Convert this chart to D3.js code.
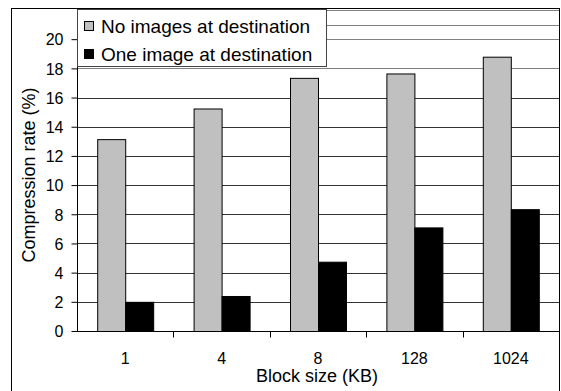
<!DOCTYPE html>
<html>
<head>
<meta charset="utf-8">
<script src="https://cdn.jsdelivr.net/npm/d3@7"></script>
<style>
  html, body { margin: 0; padding: 0; background: #fff; }
  svg { display: block; }
</style>
</head>
<body>
<svg id="chart" width="561" height="391" font-family="Liberation Sans, Arial, sans-serif"></svg>
<script>
// Block sizes and compression rates for the two destination scenarios
const categories = ["1", "4", "8", "128", "1024"];
const noImages = [13.15, 15.25, 17.35, 17.65, 18.8];
const oneImage = [2.0, 2.4, 4.75, 7.1, 8.35];
const yTicks = [0, 2, 4, 6, 8, 10, 12, 14, 16, 18, 20];
const gridValues = [2, 4, 6, 8, 10, 12, 14, 16, 18, 20, 21, 22];
const seriesNames = ["No images at destination", "One image at destination"];
const seriesColors = ["#c0c0c0", "#000000"];

const FONT = "Liberation Sans, Arial, sans-serif";
const svg = d3.select("#chart");
const W = 561, H = 391;
const plotL = 77, plotR = 559;
const plotT = 10, plotB = 331;

// outer frame
svg.append("rect")
  .attr("x", 11.5).attr("y", 8.5)
  .attr("width", 548).attr("height", 400)
  .attr("fill", "#fff").attr("stroke", "#000").attr("stroke-width", 1);

const x = d3.scaleBand().domain(categories).range([plotL, plotR]);
const y = d3.scaleLinear().domain([0, 22]).range([plotB, plotT]);

// gridlines
svg.append("g")
  .selectAll("line")
  .data(gridValues)
  .join("line")
  .attr("x1", plotL).attr("x2", plotR)
  .attr("y1", d => Math.round(y(d)) + 0.5)
  .attr("y2", d => Math.round(y(d)) + 0.5)
  .attr("stroke", d => d >= 18 ? "#808080" : "#333")
  .attr("stroke-width", 1);

// bars
const groupW = 56;
const inner = d3.scaleBand().domain([0, 1]).range([0, groupW]);
const barOffset = (x.bandwidth() - groupW) / 2;
[noImages, oneImage].forEach((vals, si) => {
  svg.append("g")
    .selectAll("rect")
    .data(vals)
    .join("rect")
    .attr("x", (d, i) => x(categories[i]) + barOffset + inner(si) + 0.5)
    .attr("y", d => y(d) + 0.5)
    .attr("width", inner.bandwidth())
    .attr("height", d => y(0) - y(d))
    .attr("fill", seriesColors[si])
    .attr("stroke", "#000")
    .attr("stroke-width", 1);
});

// y axis
const yAxis = svg.append("g")
  .attr("transform", `translate(${plotL + 0.5},0)`)
  .call(d3.axisLeft(y).tickValues(yTicks).tickSize(6).tickPadding(8).tickSizeOuter(0));
yAxis.select(".domain").attr("d", `M0,${plotT}V${plotB}`).attr("stroke", "#000");
yAxis.selectAll(".tick line").attr("stroke", "#000");
yAxis.attr("font-family", FONT).attr("font-size", 16);
yAxis.selectAll("text").attr("fill", "#000").attr("dy", "0.36em");

// x axis
const xAxis = svg.append("g")
  .attr("transform", `translate(0,${plotB + 0.5})`);
xAxis.append("line")
  .attr("x1", plotL).attr("x2", plotR)
  .attr("stroke", "#000");
xAxis.selectAll("line.tk")
  .data(categories.slice(1))
  .join("line")
  .attr("class", "tk")
  .attr("x1", d => Math.round(x(d)) + 0.5).attr("x2", d => Math.round(x(d)) + 0.5)
  .attr("y1", 0).attr("y2", 6)
  .attr("stroke", "#000");
xAxis.selectAll("text")
  .data(categories)
  .join("text")
  .attr("x", d => x(d) + x.bandwidth() / 2)
  .attr("y", 32)
  .attr("text-anchor", "middle")
  .attr("font-family", FONT)
  .attr("font-size", 16)
  .text(d => d);

// axis titles
svg.append("text")
  .attr("x", 317).attr("y", 382)
  .attr("text-anchor", "middle")
  .attr("font-family", FONT)
  .attr("font-size", 18)
  .text("Block size (KB)");
svg.append("text")
  .attr("transform", "translate(35,175) rotate(-90)")
  .attr("text-anchor", "middle")
  .attr("font-family", FONT)
  .attr("font-size", 18)
  .text("Compression rate (%)");

// legend
const lg = svg.append("g");
lg.append("rect")
  .attr("x", 77.5).attr("y", 9.5)
  .attr("width", 249).attr("height", 57)
  .attr("fill", "#fff").attr("stroke", "#444").attr("stroke-width", 1);
seriesNames.forEach((name, i) => {
  const base = 33 + i * 28;
  lg.append("rect")
    .attr("x", 84.5).attr("y", base - 11.5)
    .attr("width", 9).attr("height", 9)
    .attr("fill", seriesColors[i]).attr("stroke", "#000");
  lg.append("text")
    .attr("x", 101).attr("y", base)
    .attr("font-family", FONT)
    .attr("font-size", 19)
    .text(name);
});
</script>
</body>
</html>
